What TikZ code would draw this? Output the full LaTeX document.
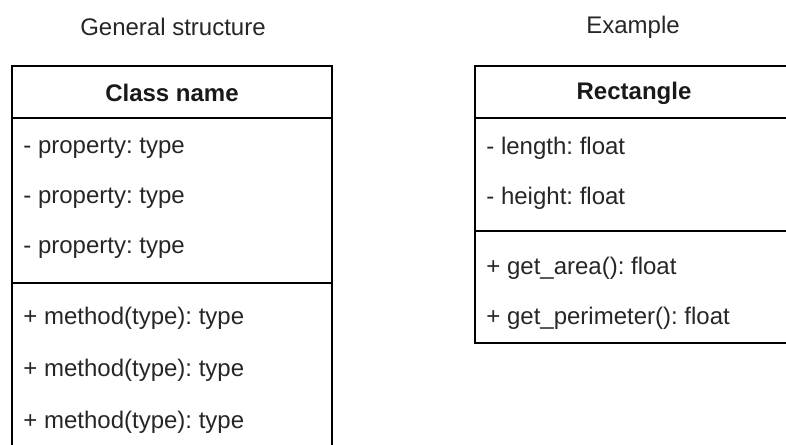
\documentclass[tikz,border=0pt]{standalone}
\usepackage{fontspec}
\setmainfont{Liberation Sans}
\frenchspacing
\begin{document}
\begin{tikzpicture}[x=0.5pt,y=-0.5pt,
  box/.style={draw=black,line width=0.8pt},
  sep/.style={draw=black,line width=0.8pt},
  title/.style={font=\fontsize{12}{14}\selectfont,text=black!85,inner sep=0pt},
  head/.style={font=\fontsize{12}{14}\selectfont\bfseries,text=black!90,inner sep=0pt},
  row/.style={font=\fontsize{12}{14}\selectfont,text=black!85,inner sep=0pt,anchor=west}]
\useasboundingbox (0,0) rectangle (786,444);
\clip (0,0) rectangle (786,444);
% titles
\node[title] (t1) at (173,27) {General structure};
\node[title] (t2) at (633,27) {Example};
% left class
\draw[box] (12,66) rectangle (332,470);
\draw[sep] (12,118) -- (332,118);
\draw[sep] (12,283) -- (332,283);
\node[head] (c1) at (172,93) {Class name};
\node[row] (p1) at (23,148) {- property: type};
\node[row] (p2) at (23,198) {- property: type};
\node[row] (p3) at (23,248) {- property: type};
\node[row] (m1) at (23,318) {+ method(type): type};
\node[row] (m2) at (23,370) {+ method(type): type};
\node[row] (m3) at (23,422) {+ method(type): type};
% right class
\draw[box] (475,66) rectangle (793,343);
\draw[sep] (475,118) -- (793,118);
\draw[sep] (475,231) -- (793,231);
\node[head] (c2) at (634,93) {Rectangle};
\node[row] (r1) at (486,148) {- length: float};
\node[row] (r2) at (486,198) {- height: float};
\node[row] (r3) at (486,268) {+ get\_area(): float};
\node[row] (r4) at (486,318) {+ get\_perimeter(): float};
\end{tikzpicture}
\end{document}
